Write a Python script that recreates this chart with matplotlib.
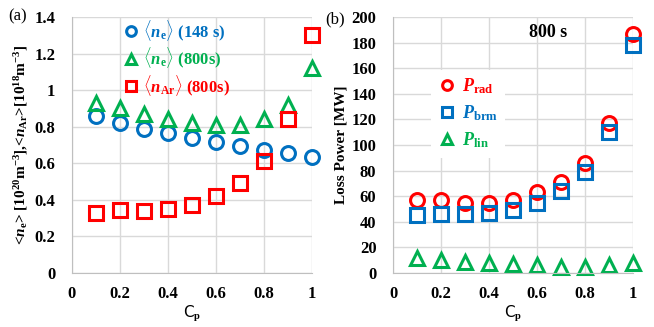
import matplotlib
matplotlib.use('Agg')
import matplotlib.pyplot as plt

# data
cp = [0.1, 0.2, 0.3, 0.4, 0.5, 0.6, 0.7, 0.8, 0.9, 1.0]

ne_148 = [0.86, 0.82, 0.79, 0.765, 0.74, 0.715, 0.695, 0.675, 0.655, 0.635]
ne_800 = [0.93, 0.905, 0.87, 0.84, 0.82, 0.81, 0.81, 0.84, 0.92, 1.12]
nar_800 = [0.33, 0.345, 0.34, 0.35, 0.37, 0.42, 0.49, 0.61, 0.84, 1.30]

p_rad = [57, 57, 55, 55, 57, 63, 71, 86, 117, 187]
p_brm = [45, 46, 46, 47, 49, 55, 64, 79, 110, 178]
p_lin = [12, 10, 9, 8, 7, 6, 5, 5, 6, 8]

xticks = [0, 0.2, 0.4, 0.6, 0.8, 1]
xticklabels = ['0', '0.2', '0.4', '0.6', '0.8', '1']
yticks_a = [0, 0.2, 0.4, 0.6, 0.8, 1, 1.2, 1.4]
yticklabels_a = ['0', '0.2', '0.4', '0.6', '0.8', '1', '1.2', '1.4']
yticks_b = list(range(0, 201, 20))

blue = '#0070C0'
green = '#00B050'
red = '#FF0000'

plt.rcParams['font.family'] = 'Liberation Serif'
plt.rcParams['mathtext.fontset'] = 'custom'
plt.rcParams['mathtext.rm'] = 'Liberation Serif:bold'
plt.rcParams['mathtext.it'] = 'Liberation Serif:italic:bold'
plt.rcParams['mathtext.bf'] = 'Liberation Serif:bold'

fig = plt.figure(figsize=(6.54, 3.27), dpi=100)
ax1 = fig.add_axes([0.110, 0.165, 0.367, 0.783])
ax2 = fig.add_axes([0.601, 0.165, 0.367, 0.783])


def style(ax, yt, ytl):
    ax.set_xlim(0, 1)
    ax.set_xticks(xticks)
    ax.set_xticklabels(xticklabels, fontweight='bold', fontsize=12)
    ax.set_yticks(yt)
    ax.set_yticklabels(ytl, fontweight='bold', fontsize=12)
    ax.tick_params(length=0, pad=9)
    ax.tick_params(axis='y', pad=12)
    ax.grid(True, color='#d9d9d9', lw=1)
    ax.set_axisbelow(True)
    for s in ['top', 'right']:
        ax.spines[s].set_visible(False)
    for s in ['left', 'bottom']:
        ax.spines[s].set_color('#bfbfbf')
    ax.set_xlabel(r'C$_{\mathbf{p}}$', fontfamily='DejaVu Sans', fontsize=11, labelpad=2)


mk = dict(ls='none', mfc='none', mew=2.2, clip_on=False)

# (a) densities
ax1.plot(cp, ne_148, marker='o', ms=10, mec=blue, label=r'$\langle n_{\rm e}\rangle$ (148 s)', **mk)
ax1.plot(cp, ne_800, marker='^', ms=10, mec=green, label=r'$\langle n_{\rm e}\rangle$ (800s)', **mk)
ax1.plot(cp, nar_800, marker='s', ms=10, mec=red, label=r'$\langle n_{\rm Ar}\rangle$ (800s)', **mk)
ax1.set_ylim(0, 1.4)
style(ax1, yticks_a, yticklabels_a)
ax1.set_ylabel(r'<$n_{\rm e}$> [10$^{20}$m$^{-3}$],<$n_{\rm Ar}$>[10$^{18}$m$^{-3}$]',
               fontweight='bold', fontsize=11, labelpad=3)
leg1 = ax1.legend(loc='upper left', bbox_to_anchor=(0.14, 1.055), frameon=False,
                  prop={'weight': 'bold', 'size': 12}, labelcolor='markeredgecolor',
                  handletextpad=0.15, handlelength=1.2, labelspacing=0.15, markerscale=0.7)
fig.text(0.012, 0.95, '(a)', fontsize=12, va='center', ha='left')

# (b) loss power
ax2.plot(cp, p_rad, marker='o', ms=10, mec=red, label=r'$P_{\rm rad}$', **mk)
ax2.plot(cp, p_brm, marker='s', ms=10, mec=blue, label=r'$P_{\rm brm}$', **mk)
ax2.plot(cp, p_lin, marker='^', ms=10, mec=green, label=r'$P_{\rm lin}$', **mk)
ax2.set_ylim(0, 200)
style(ax2, yticks_b, [str(v) for v in yticks_b])
ax2.set_ylabel('Loss Power [MW]', fontweight='bold', fontsize=11, labelpad=3)
leg2 = ax2.legend(loc='upper left', bbox_to_anchor=(0.12, 0.83), frameon=True,
                  facecolor='white', edgecolor='none', framealpha=1,
                  prop={'weight': 'bold', 'size': 13}, labelcolor='markeredgecolor',
                  handletextpad=0.3, handlelength=1.0, labelspacing=0.4, markerscale=0.7)
ax2.text(0.645, 0.94, '800 s', transform=ax2.transAxes, fontsize=13, fontweight='bold',
         ha='center', va='center')
fig.text(0.497, 0.94, '(b)', fontsize=12, va='center', ha='left')

fig.savefig('out.png', dpi=100)
